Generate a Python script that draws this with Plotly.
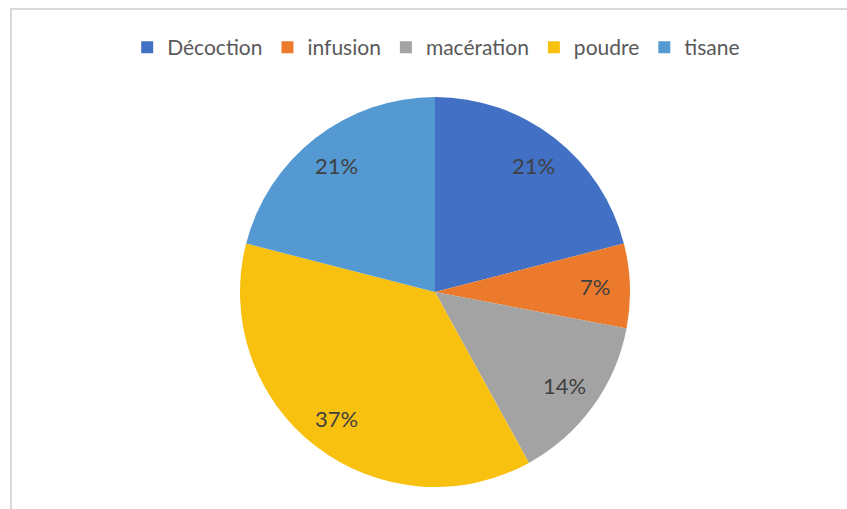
import math
import plotly.graph_objects as go

W, H = 847, 509

labels = ["Décoction", "infusion", "macération", "poudre", "tisane"]
values = [21, 7, 14, 37, 21]
colors = ["#4270C4", "#EC7A2D", "#A3A3A3", "#F9C10F", "#5599D3"]

# pie geometry in pixels
CX, CY, R = 435, 292, 195


def px(x):
    return x / W


def py(y):
    return 1 - y / H


fig = go.Figure()
fig.add_trace(go.Pie(
    labels=labels,
    values=values,
    sort=False,
    direction="clockwise",
    rotation=0,
    marker=dict(colors=colors, line=dict(width=0)),
    textinfo="none",
    domain=dict(x=[px(CX - R), px(CX + R)], y=[py(CY + R), py(CY - R)]),
    hoverinfo="label+percent",
))

# percentage labels placed at each slice's mid angle (Excel "best fit" look)
total = sum(values)
cum = 0
annotations = []
for v in values:
    mid = (cum + v / 2) / total * 2 * math.pi
    cum += v
    r = 0.82 * R
    annotations.append(dict(
        x=px(CX + r * math.sin(mid)), y=py(CY - r * math.cos(mid)),
        xref="paper", yref="paper", xanchor="center", yanchor="middle",
        showarrow=False,
        text=f"{round(v / total * 100)}%",
        font=dict(family="Lato", size=22, color="#404040"),
    ))

fig.update_layout(
    width=W,
    height=H,
    margin=dict(l=0, r=0, t=0, b=0),
    paper_bgcolor="white",
    showlegend=True,
    annotations=annotations,
    legend=dict(
        orientation="h",
        x=0.515, xanchor="center",
        y=py(27), yanchor="top",
        font=dict(family="Lato", size=21, color="#595959"),
        traceorder="normal",
        itemwidth=30,
    ),
    shapes=[
        dict(type="line", xref="paper", yref="paper",
             x0=px(10), x1=1.02, y0=py(9), y1=py(9),
             line=dict(color="#D9D9D9", width=2)),
        dict(type="line", xref="paper", yref="paper",
             x0=px(11), x1=px(11), y0=py(9), y1=-0.02,
             line=dict(color="#D9D9D9", width=2)),
    ],
)

fig.write_html("out.html", config={"displayModeBar": False},
               post_script="document.body.style.margin='0';")
